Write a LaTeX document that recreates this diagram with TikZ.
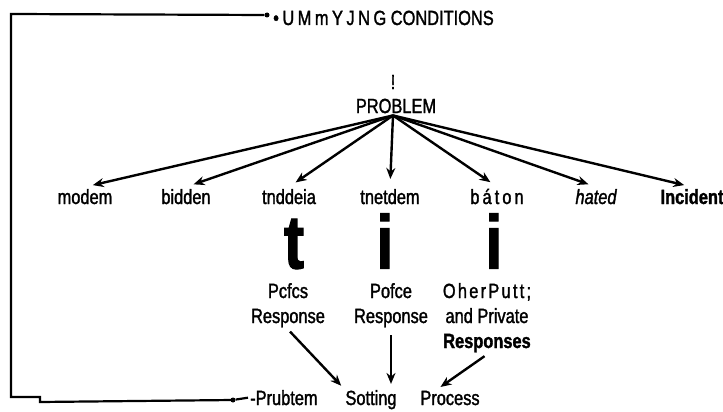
\documentclass[tikz,border=0pt]{standalone}
\usepackage{fontspec}
\setmainfont{Liberation Sans}[FakeStretch=0.8,FakeBold=1.5]
\usetikzlibrary{arrows.meta,positioning}
\newcommand{\spread}[2]{{\addfontfeature{LetterSpace=#1}#2}}

\begin{document}
\begin{tikzpicture}[x=1pt,y=-1pt,
  flow/.style={-{Stealth[length=11pt,width=9pt]},line width=2.4pt,shorten >=8pt},
  loopline/.style={line width=2.2pt},
  bigmark/.style={font=\fontsize{76}{76}\selectfont\bfseries,inner sep=0pt},
  dot/.style={circle,fill,inner sep=0pt,minimum size=5pt}]
\tikzstyle{every node}=[font=\fontsize{20.5}{25}\selectfont, inner sep=2pt]
\useasboundingbox (0,0) rectangle (723,412);

% problem and its kinds
\node (excl) at (393,82) {!};
\node (problem) at (396,106) {PROBLEM};
\node[anchor=base] (modem) at (85,204) {modem};
\node[anchor=base] (bidden) at (186,204) {bidden};
\node[anchor=base] (tnddeia) at (289,204) {tnddeia};
\node[anchor=base] (tnetdem) at (390,204) {tnetdem};
\node[anchor=base] (baton) at (497,204) {\spread{15}{báton}};
\node[anchor=base] (hated) at (596,204) {\itshape hated};
\node[anchor=base] (incident) at (692,204) {\bfseries Incident};

\foreach \k in {modem,bidden,tnddeia,tnetdem,baton,hated,incident}
  \draw[flow] ([xshift=-3pt]problem.south) -- (\k.north);

% responses
\node[bigmark] (tmark) at (294,244) {t};
\node[bigmark] (imark) at (385,241) {i};
\node[bigmark] (jmark) at (494,241) {i};
\node[anchor=base, align=center] (pcfcs) at (288,323) {Pcfcs\\Response};
\node[anchor=base, align=center] (pofce) at (391,323) {Pofce\\Response};
\node[anchor=base, align=center] (other) at (487,348)
  {\spread{11}{OherPutt;}\\and Private\\{\bfseries Responses}};

% bottom line
\node[anchor=base west] (prubtem) at (248,405) {-Prubtem};
\node[anchor=base] (sotting) at (371,405) {Sotting};
\node[anchor=base] (process) at (450,405) {Process};
\draw[flow,shorten >=3pt,shorten <=3pt] (pcfcs.south) -- (sotting.north west);
\draw[flow,shorten >=4pt,shorten <=6pt] (pofce.south) -- (pofce.south |- sotting.north);
\draw[flow,shorten >=3pt,shorten <=3pt] (other.south) -- ([xshift=-12pt]process.north);

% feedback loop
\node[dot] (bdot) at (233,400) {};
\node[dot] (tdot) at (267,15) {};
\node[anchor=base west] (cond) at (271,25) {\spread{17}{•UMmYJNG} CONDITIONS};
\coordinate (cornerlow) at (11,397);
\coordinate (cornertop) at (11,14);
\draw[loopline] (bdot) -- (prubtem.west);
\draw[loopline] (bdot.center) -- (40,402) -- (40,397) -- (cornerlow)
  -- (cornertop) -- (tdot);
\end{tikzpicture}
\end{document}
